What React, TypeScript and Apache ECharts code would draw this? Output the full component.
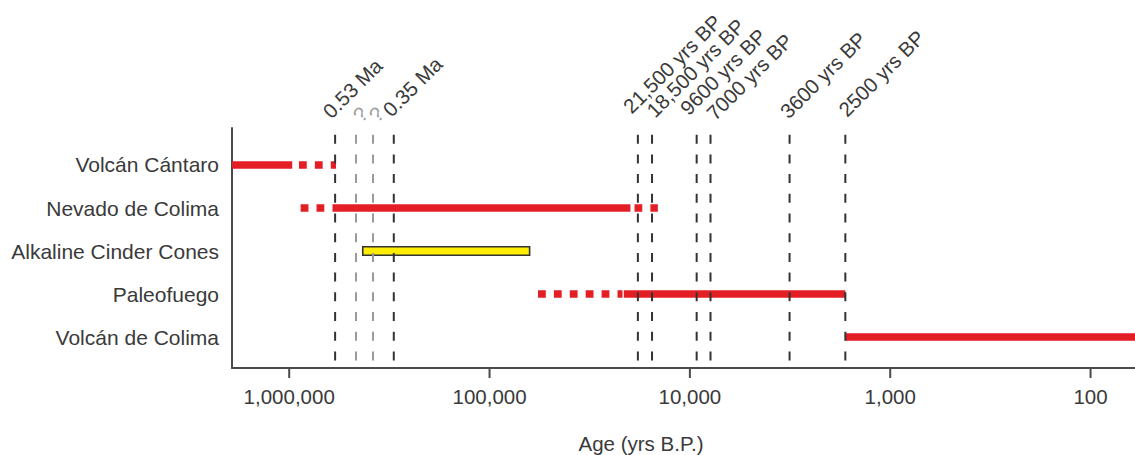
import React, { useEffect, useRef } from "react";
import * as echarts from "echarts";

// Rows (top to bottom)
const ROWS = [
  "Volcán Cántaro",
  "Nevado de Colima",
  "Alkaline Cinder Cones",
  "Paleofuego",
  "Volcán de Colima",
];

// Axis extent (years B.P.) and tick values
const AGE_MIN = 60;
const AGE_MAX = 1930000;
const TICK_AGES = [1000000, 100000, 10000, 1000, 100];

// Activity ranges: [row, older age, younger age]
const SOLID_RANGES = [
  [0, 1930000, 966000],
  [1, 606700, 19800],
  [3, 21380, 1675],
  [4, 1675, 60],
];
const DASHED_RANGES = [
  [0, 894000, 584000],
  [1, 877000, 606700],
  [1, 18900, 14450],
  [3, 57300, 21700],
];
const BOX_RANGES = [[2, 429500, 63100]];

// Reference (dashed vertical) lines
const REF_AGES = [590000, 464000, 381600, 300600, 18180, 15450, 9250, 7890, 3180, 1675];
const REF_LABELS = [
  "0.53 Ma",
  "?",
  "?",
  "0.35 Ma",
  "21,500 yrs BP",
  "18,500 yrs BP",
  "9600 yrs BP",
  "7000 yrs BP",
  "3600 yrs BP",
  "2500 yrs BP",
];
const REF_UNCERTAIN = [false, true, true, false, false, false, false, false, false, false];

const AXIS_TITLE = "Age (yrs B.P.)";

// layout nudges for the rotated reference labels [dx from line, dy from plot top]
const LABEL_NUDGE = [
  [-1.5, -6.2],
  [7.5, -2.5],
  [6.5, -2.5],
  [-0.2, -7.8],
  [-3.9, -11.2],
  [5.3, -7.2],
  [-5.9, -9.5],
  [6.9, -4.5],
  [1.4, -6.2],
  [4, -7.8],
];

const FONT = "'Liberation Sans', Arial, Helvetica, sans-serif";
const TEXT = "#3a3a3a";
const AXIS = "#4a4a4a";
const RED = "#e31e25";
const YELLOW = "#ffed00";

export default function App() {
  const ref = useRef<HTMLDivElement>(null);

  useEffect(() => {
    if (!ref.current) return;
    const chart = echarts.init(ref.current, undefined, { renderer: "svg" });

    const segData: any[] = [];
    SOLID_RANGES.forEach((r) => segData.push([r[1], r[2], r[0], 0]));
    DASHED_RANGES.forEach((r) => segData.push([r[1], r[2], r[0], 1]));
    BOX_RANGES.forEach((r) => segData.push([r[1], r[2], r[0], 2]));

    const refData = REF_AGES.map((a, i) => [a, i]);
    const tickData = TICK_AGES.map((a) => [a]);

    const option: any = {
      animation: false,
      backgroundColor: "#ffffff",
      grid: { left: 232, right: 0, top: 128, bottom: 87, containLabel: false },
      xAxis: {
        type: "log",
        logBase: 10,
        inverse: true,
        min: AGE_MIN,
        max: AGE_MAX,
        axisLine: { show: true, onZero: false, lineStyle: { color: AXIS, width: 2 } },
        axisTick: { show: false },
        axisLabel: {
          show: true,
          showMinLabel: false,
          showMaxLabel: false,
          margin: 18,
          fontSize: 20.5,
          fontFamily: FONT,
          color: TEXT,
          formatter: (v: number) => Math.round(v).toLocaleString("en-US"),
        },
        splitLine: { show: false },
        minorTick: { show: false },
      },
      yAxis: {
        type: "value",
        inverse: true,
        min: -0.86,
        max: 4.72,
        axisLine: { show: true, onZero: false, lineStyle: { color: AXIS, width: 2 } },
        axisTick: { show: false },
        splitLine: { show: false },
        axisLabel: {
          customValues: [0, 1, 2, 3, 4],
          margin: 13,
          fontSize: 21,
          fontFamily: FONT,
          color: TEXT,
          formatter: (v: number) => ROWS[Math.round(v)] ?? "",
        },
      },
      series: [
        {
          type: "custom",
          name: "activity",
          clip: true,
          encode: { x: [0, 1], y: 2 },
          data: segData,
          renderItem: (params: any, api: any) => {
            const a = api.coord([api.value(0), api.value(2)]);
            const b = api.coord([api.value(1), api.value(2)]);
            const kind = api.value(3);
            if (kind === 2) {
              return {
                type: "rect",
                shape: { x: a[0], y: a[1] - 4.2, width: b[0] - a[0], height: 8.4 },
                style: { fill: YELLOW, stroke: "#333333", lineWidth: 1.6 },
              };
            }
            return {
              type: "line",
              shape: { x1: a[0], y1: a[1], x2: b[0], y2: b[1] },
              style: {
                stroke: RED,
                lineWidth: 7.5,
                lineCap: "butt",
                lineDash: kind === 1 ? [7.8, 8.1] : null,
              },
            };
          },
          z: 2,
        },
        {
          type: "custom",
          name: "ticks",
          clip: false,
          encode: { x: 0 },
          data: tickData,
          renderItem: (params: any, api: any) => {
            const x = api.coord([api.value(0), 0])[0];
            const cs = params.coordSys;
            const yb = cs.y + cs.height;
            return {
              type: "line",
              shape: { x1: x, y1: yb, x2: x, y2: yb + 10 },
              style: { stroke: AXIS, lineWidth: 2 },
            };
          },
          z: 3,
        },
        {
          type: "custom",
          name: "references",
          clip: false,
          encode: { x: 0 },
          data: refData,
          renderItem: (params: any, api: any) => {
            const idx = api.value(1);
            const x = api.coord([api.value(0), 0])[0];
            const cs = params.coordSys;
            const grey = REF_UNCERTAIN[idx];
            const col = grey ? "#9a9a9a" : "#333333";
            const nudge = LABEL_NUDGE[idx];
            return {
              type: "group",
              children: [
                {
                  type: "line",
                  shape: { x1: x, y1: cs.y + 6.7, x2: x, y2: cs.y + cs.height - 7.3 },
                  style: { stroke: col, lineWidth: 2, lineDash: [9, 10.7], lineCap: "butt" },
                },
                {
                  type: "text",
                  x: x + nudge[0],
                  y: cs.y + nudge[1],
                  rotation: Math.PI / 4,
                  style: {
                    text: REF_LABELS[idx],
                    fontSize: 20.5,
                    fontFamily: FONT,
                    fill: grey ? "#a0a0a0" : TEXT,
                    align: "left",
                    verticalAlign: "bottom",
                  },
                },
              ],
            };
          },
          z: 5,
        },
      ],
      graphic: [
        {
          type: "text",
          x: 641,
          y: 443,
          style: {
            text: AXIS_TITLE,
            fontSize: 20.5,
            fontFamily: FONT,
            fill: TEXT,
            align: "center",
            verticalAlign: "middle",
          },
        },
      ],
    };

    chart.setOption(option);
    return () => chart.dispose();
  }, []);

  return (
    <div
      ref={ref}
      style={{ position: "absolute", left: 0, top: 0, width: 1135, height: 455 }}
    />
  );
}
